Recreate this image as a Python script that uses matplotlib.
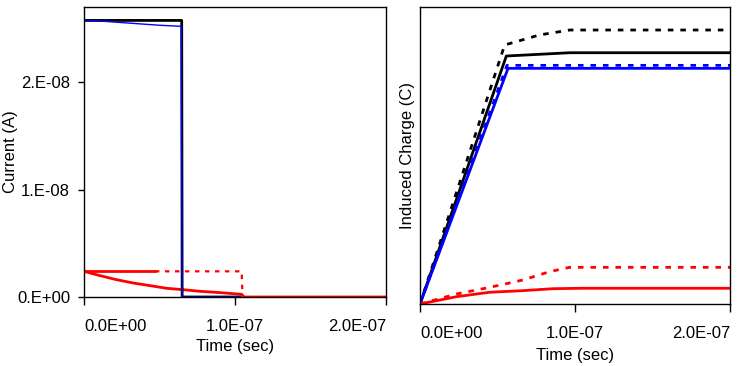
import matplotlib
matplotlib.use('Agg')
import matplotlib.pyplot as plt

plt.rcParams['font.family'] = ['Liberation Sans', 'DejaVu Sans']

# Left panel: current vs time
t_black_i = [0, 6.47e-8, 6.50e-8, 1.03e-7]
i_black = [2.575e-8, 2.575e-8, 0, 0]

t_blue_i = [0, 1.0e-8, 2.0e-8, 3.0e-8, 4.0e-8, 5.0e-8, 6.45e-8, 6.47e-8, 6.50e-8, 1.03e-7]
i_blue = [2.575e-8, 2.57e-8, 2.56e-8, 2.55e-8, 2.54e-8, 2.53e-8, 2.52e-8, 1.28e-8, 0, 0]

t_red_i = [0, 1.06e-8, 2.16e-8, 3.27e-8, 4.37e-8, 5.47e-8, 6.58e-8, 7.68e-8, 8.79e-8,
           9.89e-8, 1.044e-7, 1.06e-7, 2.0e-7]
i_red = [2.39e-9, 1.99e-9, 1.61e-9, 1.30e-9, 1.06e-9, 0.81e-9, 0.68e-9, 0.53e-9, 0.43e-9,
         0.31e-9, 0.25e-9, 0, 0]

t_red_i_dot = [0, 4.7e-8, 1.044e-7, 1.05e-7]
i_red_dot = [2.39e-9, 2.39e-9, 2.39e-9, 0]

# Right panel: induced charge vs time
t_black_q = [0, 5.57e-8, 9.66e-8, 2.0e-7]
q_black = [0, 1.670e-15, 1.692e-15, 1.692e-15]

t_black_q_dot = [0, 5.46e-8, 7.72e-8, 9.66e-8, 2.0e-7]
q_black_dot = [0, 1.744e-15, 1.812e-15, 1.845e-15, 1.845e-15]

t_blue_q = [0, 5.68e-8, 2.0e-7]
q_blue = [0, 1.587e-15, 1.587e-15]

t_blue_q_dot = [0, 5.61e-8, 2.0e-7]
q_blue_dot = [0, 1.607e-15, 1.607e-15]

t_red_q = [0, 2.34e-8, 4.49e-8, 6.65e-8, 8.58e-8, 1.05e-7, 2.0e-7]
q_red = [0, 0.049e-15, 0.079e-15, 0.090e-15, 0.103e-15, 0.106e-15, 0.106e-15]

t_red_q_dot = [0, 2.34e-8, 4.49e-8, 6.65e-8, 8.37e-8, 9.66e-8, 2.0e-7]
q_red_dot = [0, 0.067e-15, 0.112e-15, 0.162e-15, 0.218e-15, 0.247e-15, 0.247e-15]

x_ticks = [0, 1e-7, 2e-7]
x_labels = ['0.0E+00', '1.0E-07', '2.0E-07']
y_ticks = [0, 1e-8, 2e-8]
y_labels = ['0.E+00', '1.E-08', '2.E-08']

W, H = 738, 366
fig = plt.figure(figsize=(W / 100, H / 100), dpi=100)

ax1 = fig.add_axes([84 / W, (H - 297) / H, (386 - 84) / W, (297 - 7) / H])
ax2 = fig.add_axes([420 / W, (H - 304) / H, (730 - 420) / W, (304 - 7) / H])

dots = (0, (2, 2.5))

# red dotted: first stretch drawn continuous, rest dotted
ax1.plot(t_red_i_dot[:2], i_red_dot[:2], color='red', lw=2)
ax1.plot(t_red_i_dot[1:], i_red_dot[1:], color='red', lw=1.6, linestyle=dots)
ax1.plot(t_red_i, i_red, color='red', lw=2)
ax1.plot(t_black_i, i_black, color='black', lw=2)
ax1.plot(t_blue_i, i_blue, color='blue', lw=1)

ax2.plot(t_black_q_dot, q_black_dot, color='black', lw=2, linestyle=dots)
ax2.plot(t_black_q, q_black, color='black', lw=2)
ax2.plot(t_blue_q_dot, q_blue_dot, color='blue', lw=2, linestyle=dots)
ax2.plot(t_blue_q, q_blue, color='blue', lw=2)
ax2.plot(t_red_q_dot, q_red_dot, color='red', lw=2, linestyle=dots)
ax2.plot(t_red_q, q_red, color='red', lw=2)

ax1.set_xlim(0, 2e-7)
ax1.set_ylim(0, 2.7e-8)
ax2.set_xlim(0, 2e-7)
ax2.set_ylim(0, 2.0e-15)

for ax in (ax1, ax2):
    ax.set_xticks(x_ticks)
    ax.set_xticklabels(x_labels, fontsize=12)
    for lab, ha in zip(ax.get_xticklabels(), ['left', 'center', 'right']):
        lab.set_ha(ha)
    ax.tick_params(axis='x', direction='out', length=6, width=1, pad=10)
    for s in ax.spines.values():
        s.set_linewidth(1)
    ax.set_xlabel('Time (sec)', fontsize=12, va='center')
    ax.xaxis.set_label_coords(0.5, -0.172)

ax1.set_yticks(y_ticks)
ax1.set_yticklabels(y_labels, fontsize=12)
ax1.tick_params(axis='y', direction='out', length=4, width=1, pad=6)
ax1.set_ylabel('Current (A)', fontsize=12, va='center')
ax1.yaxis.set_label_coords(-0.245, 0.5)

ax2.set_yticks([])
ax2.set_ylabel('Induced Charge (C)', fontsize=12, va='center')
ax2.yaxis.set_label_coords(-0.039, 0.5)

fig.savefig('out.png', dpi=100)
